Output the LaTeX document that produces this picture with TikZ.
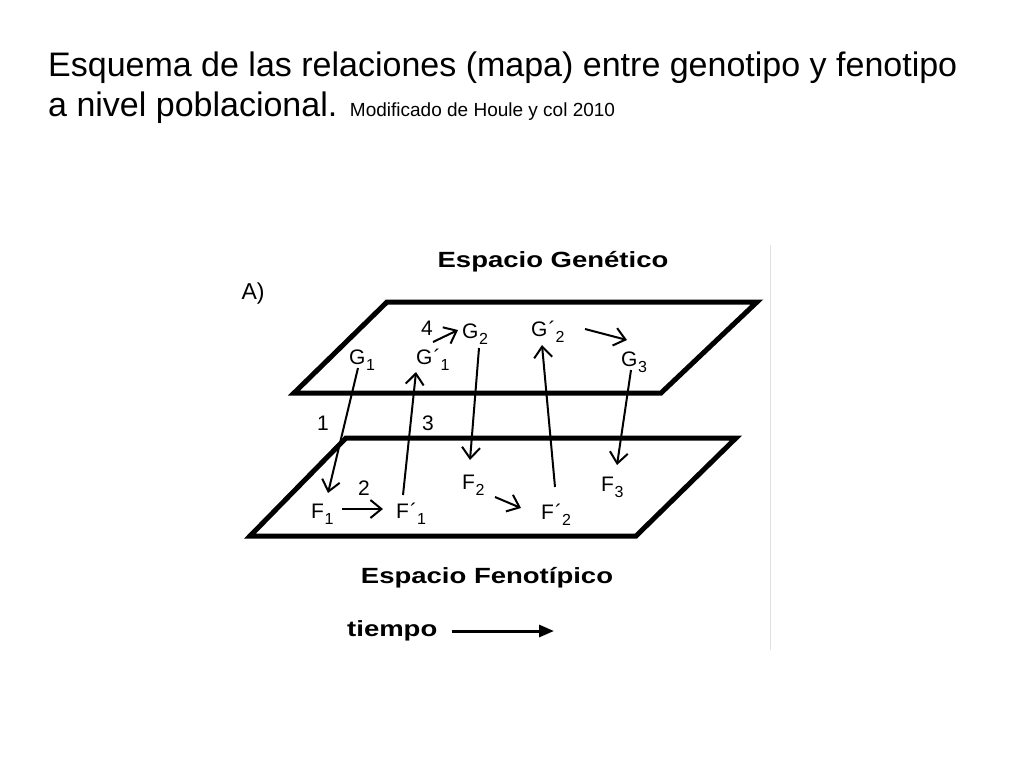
\documentclass[tikz,border=0pt]{standalone}
\usepackage{fontspec}
\setmainfont{Liberation Sans}
\newfontfamily\widebold[FakeStretch=1.25]{Liberation Sans Bold}
\usetikzlibrary{arrows.meta}
\newcommand{\lsub}[1]{\kern0.5pt\raisebox{-6pt}{\fontsize{16}{18}\selectfont #1}}
\newcommand{\lprime}{\kern1pt´\kern-0.5pt}
\begin{document}
\begin{tikzpicture}[x=1pt,y=-1pt,
  plane/.style={line width=5pt, line join=miter},
  conn/.style={line width=2pt, -{Straight Barb[length=11pt,width=18pt,line width=2pt]}},
  lbl/.style={inner sep=0pt, anchor=base west, font=\fontsize{21}{24}\selectfont},
  num/.style={inner sep=0pt, font=\fontsize{21}{24}\selectfont},
  head/.style={inner sep=0pt, font=\fontsize{22}{26}\selectfont\widebold},
  title/.style={inner sep=0pt, anchor=base west, font=\fontsize{34}{40}\selectfont}]
\useasboundingbox (0,0) rectangle (1024,768);
\fill[white] (0,0) rectangle (1024,768);
% title
\node[title] (t1) at (48,77) {Esquema de las relaciones (mapa) entre genotipo y fenotipo};
\node[title] (t2) at (48,116) {a nivel poblacional. {\fontsize{19}{22}\selectfont Modificado de Houle y col 2010}};
% image edge
\draw[black!12, line width=1pt] (770,245) -- (770,650);
% headings
\node[head] (hg) at (553,262) {Espacio Genético};
\node[inner sep=0pt, font=\fontsize{23}{26}\selectfont] (A) at (253,294) {A)};
\node[head] (hf) at (487,578) {Espacio Fenotípico};
\node[head, anchor=west] (tiempo) at (347,631) {tiempo};
\coordinate (tend) at (554,631);
\draw[line width=3pt, -{Triangle[length=15pt,width=12pt]}] ([xshift=14pt]tiempo.east) -- (tend);
% planes
\draw[plane] (387,302) -- (757,302) -- (661,393) -- (294,393) -- cycle;
\draw[plane] (346,438) -- (736,438) -- (636,536) -- (250,536) -- cycle;
% labels
\node[lbl] (G1) at (349,364) {G\lsub{1}};
\node[lbl] (Gp1) at (416,364) {G\lprime\lsub{1}};
\node[lbl] (G2) at (462,338) {G\lsub{2}};
\node[lbl] (Gp2) at (531,336) {G\lprime\lsub{2}};
\node[lbl] (G3) at (621,366) {G\lsub{3}};
\node[lbl] (F1) at (311,518) {F\lsub{1}};
\node[lbl] (Fp1) at (396,518) {F\lprime\lsub{1}};
\node[lbl] (F2) at (462,489) {F\lsub{2}};
\node[lbl] (Fp2) at (541,519) {F\lprime\lsub{2}};
\node[lbl] (F3) at (601,491) {F\lsub{3}};
\node[num] (n1) at (323,423) {1};
\node[num] (n3) at (428,423) {3};
\node[num] (n2) at (364,488) {2};
\node[num] (n4) at (427,328) {4};
% connectors
\draw[conn] ([shift={(9,4)}]G1.base west) -- ([shift={(17,-25)}]F1.base west);
\draw[conn] ([shift={(7,-23)}]Fp1.base west) -- ([shift={(0,8)}]Gp1.base west);
\draw[conn] ([shift={(17,10)}]G2.base west) -- ([shift={(8,-29)}]F2.base west);
\draw[conn] ([shift={(14,-32)}]Fp2.base west) -- ([shift={(11,9)}]Gp2.base west);
\draw[conn] ([shift={(10,4)}]G3.base west) -- ([shift={(16,-26)}]F3.base west);
\draw[conn] ([shift={(17,-22)}]Gp1.base west) -- ([shift={(-4,-8)}]G2.base west);
\draw[conn] ([shift={(54,-7)}]Gp2.base west) -- ([shift={(6,-26)}]G3.base west);
\draw[conn] ([shift={(31,-9)}]F1.base west) -- ([shift={(-13,-9)}]Fp1.base west);
\draw[conn] ([shift={(33,8)}]F2.base west) -- ([shift={(-20,-11)}]Fp2.base west);
\end{tikzpicture}
\end{document}
